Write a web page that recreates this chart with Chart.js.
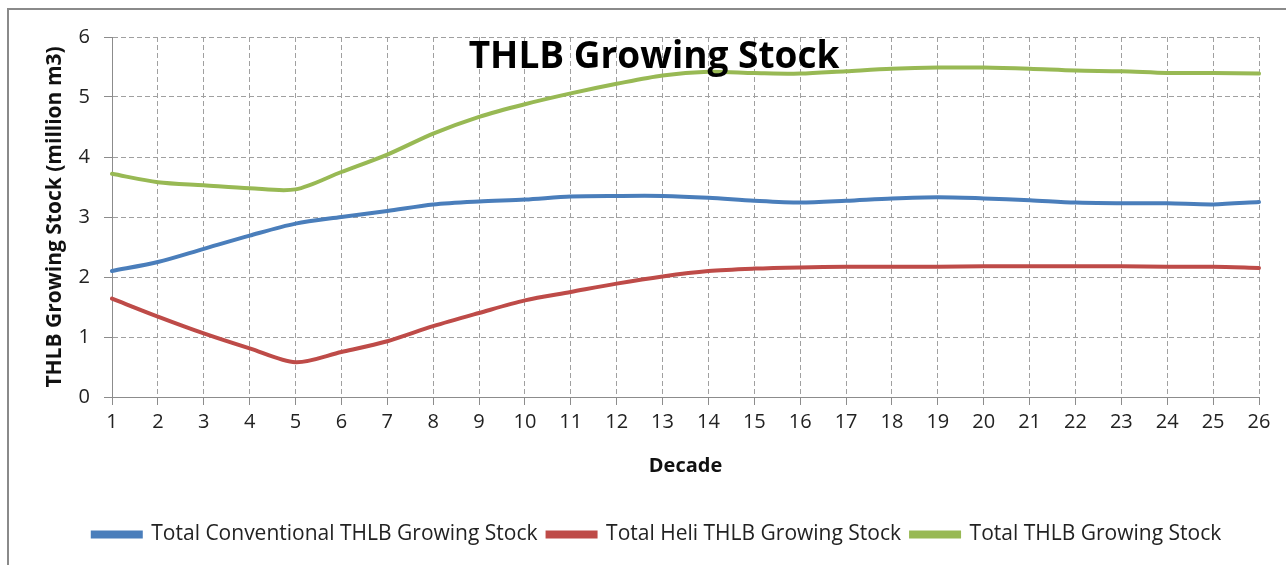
<!DOCTYPE html>
<html>
<head>
<meta charset="utf-8">
<script src="https://cdn.jsdelivr.net/npm/chart.js@4.4.1/dist/chart.umd.min.js"></script>
<style>
  html, body { margin: 0; padding: 0; background: #fff; }
  #wrap { position: relative; width: 1286px; height: 565px; overflow: hidden; }
  #frame { position: absolute; left: 7px; top: 8px; width: 1400px; height: 700px;
           border-left: 2px solid #8a8a8a; border-top: 2px solid #8a8a8a; }
  canvas { position: absolute; left: 0; top: 0; }
</style>
</head>
<body>
<div id="wrap">
  <div id="frame"></div>
  <canvas id="c" width="1286" height="565"></canvas>
</div>
<script>
const decades = ['1','2','3','4','5','6','7','8','9','10','11','12','13','14','15','16','17','18','19','20','21','22','23','24','25','26'];
const conventional = [2.10,2.25,2.47,2.69,2.89,3.00,3.10,3.21,3.26,3.29,3.34,3.35,3.35,3.32,3.27,3.24,3.27,3.31,3.33,3.31,3.28,3.24,3.23,3.23,3.21,3.25];
const heli = [1.64,1.34,1.06,0.81,0.58,0.75,0.93,1.18,1.40,1.61,1.75,1.89,2.01,2.10,2.14,2.16,2.17,2.17,2.17,2.18,2.18,2.18,2.18,2.17,2.17,2.15];
const total = [3.72,3.58,3.53,3.48,3.46,3.75,4.04,4.39,4.67,4.88,5.06,5.22,5.36,5.42,5.40,5.39,5.43,5.47,5.49,5.49,5.47,5.44,5.43,5.40,5.40,5.39];
const seriesNames = ['Total Conventional THLB Growing Stock','Total Heli THLB Growing Stock','Total THLB Growing Stock'];
const chartTitle = 'THLB Growing Stock';
const xTitle = 'Decade';
const yTitle = 'THLB Growing Stock (million m3)';

const FONT = "'Open Sans', 'Liberation Sans', sans-serif";
const colors = ['#4A7EBB', '#BE4B48', '#98B954'];

const titlePlugin = {
  id: 'overlayTitle',
  afterDatasetsDraw(chart) {
    const ctx = chart.ctx;
    ctx.save();
    ctx.font = "bold 37px " + FONT;
    ctx.fillStyle = '#000';
    ctx.textAlign = 'center';
    ctx.textBaseline = 'alphabetic';
    ctx.fillText(chartTitle, 654, 68);
    ctx.restore();
  }
};

function ds(label, data, color) {
  return {
    label, data,
    borderColor: color, backgroundColor: color,
    borderWidth: 4, pointRadius: 0, pointHoverRadius: 0,
    tension: 0.3, fill: false, borderCapStyle: 'round'
  };
}

new Chart(document.getElementById('c'), {
  type: 'line',
  data: {
    labels: decades,
    datasets: [
      ds(seriesNames[0], conventional, colors[0]),
      ds(seriesNames[1], heli, colors[1]),
      ds(seriesNames[2], total, colors[2])
    ]
  },
  plugins: [titlePlugin],
  options: {
    responsive: false,
    animation: false,
    events: [],
    layout: { padding: { left: 55, right: 27, top: 37, bottom: 10 } },
    scales: {
      x: {
        type: 'category',
        offset: false,
        afterFit(s) { s.height = 117; },
        grid: { color: '#a0a0a0', lineWidth: 1, tickLength: 8, drawTicks: true, tickBorderDash: [], tickColor: '#8c8c8c' },
        border: { display: true, color: '#8c8c8c', width: 1, dash: [5, 3] },
        ticks: { color: '#222', font: { family: FONT, size: 20 }, padding: 5, maxRotation: 0, autoSkip: false },
        title: { display: true, text: xTitle, color: '#111', font: { family: FONT, size: 20, weight: 'bold' }, padding: { top: 0, bottom: 36 } }
      },
      y: {
        min: 0, max: 6,
        afterFit(s) { s.width = 57; },
        grid: { color: '#a0a0a0', lineWidth: 1, tickLength: 8, tickBorderDash: [], tickColor: '#8c8c8c' },
        border: { display: true, color: '#8c8c8c', width: 1, dash: [5, 3] },
        ticks: { stepSize: 1, color: '#222', font: { family: FONT, size: 20 }, padding: 14 },
        title: { display: true, text: yTitle, color: '#111', font: { family: FONT, size: 21, weight: 'bold' }, padding: { top: -12.6, bottom: 0 } }
      }
    },
    plugins: {
      title: { display: false },
      tooltip: { enabled: false },
      legend: {
        display: true,
        position: 'bottom',
        labels: {
          color: '#222',
          font: { family: FONT, size: 21 },
          boxWidth: 48, boxHeight: 4, padding: 10
        }
      }
    }
  }
});
</script>
</body>
</html>
